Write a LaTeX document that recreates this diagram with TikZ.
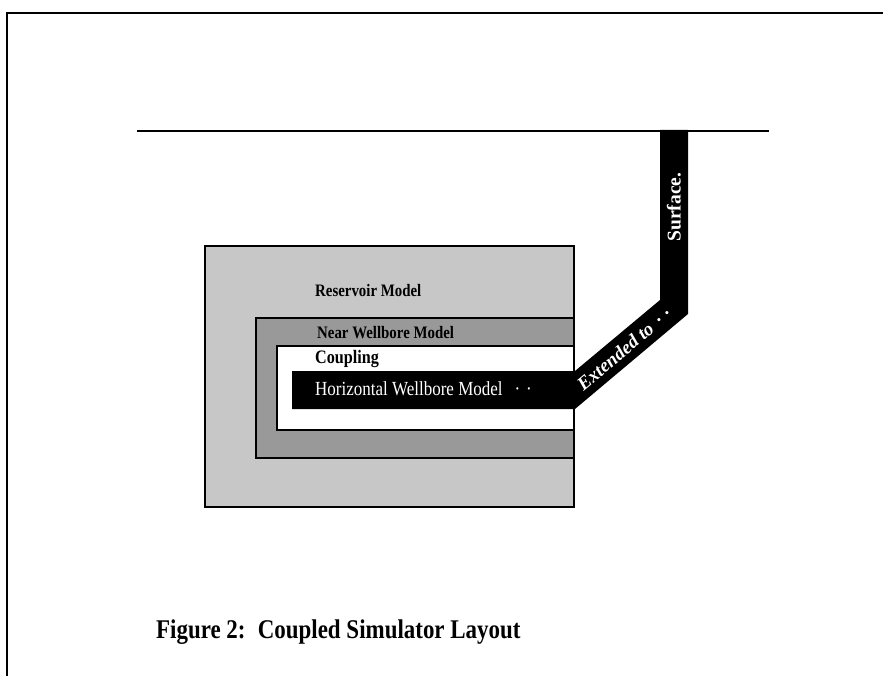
\documentclass[tikz,border=0pt]{standalone}
\usepackage{fontspec}
\setmainfont{Liberation Serif}
\usetikzlibrary{positioning}

\tikzset{
  modelbox/.style={draw=black, line width=1.8pt},
  boxlabel/.style={anchor=base west, inner sep=0pt, xscale=.85, font=\bfseries\fontsize{17.5}{20}\selectfont},
  pipelabel/.style={inner sep=0pt, text=white, font=\bfseries\fontsize{18}{20}\selectfont},
}

\begin{document}
\begin{tikzpicture}[x=1pt, y=-1pt]
        \useasboundingbox (0,0) rectangle (883,676);

        % Page frame (only top and left edges survive)
        \draw[line width=1.2pt] (7,676) -- (7,13) -- (883,13);

        % Ground surface line
        \coordinate (surfL) at (137,131);
        \coordinate (surfR) at (769,131);
        \draw[line width=1.6pt] (surfL) -- (surfR);

        % Nested model boxes
        \filldraw[modelbox, fill=black!22] (205,246) rectangle (574,507);
        \filldraw[modelbox, line width=2.2pt, fill=black!40] (256,318) rectangle (574,458);
        \filldraw[modelbox, line width=1.4pt, fill=white] (277,346) rectangle (574,430);

        % Wellbore, horizontal leg running out and up to the surface
        \fill (292,371) -- (575,371) -- (660,300) -- (660,130)
              -- (688,130) -- (688,314) -- (575,409) -- (292,409) -- cycle;

        % Labels
        \node[boxlabel] (res) at (315,297) {Reservoir Model};
        \node[boxlabel] (nwb) at (317,338) {Near Wellbore Model};
        \node[boxlabel, font=\bfseries\fontsize{19}{20}\selectfont] (cpl) at (315,363) {Coupling};
        \node[boxlabel, text=white, font=\fontsize{20}{22}\selectfont] (hwb) at (315,395)
             {Horizontal Wellbore Model\hspace{0.7em}·\hspace{0.35em}·};
        \node[pipelabel, rotate=40, font=\bfseries\itshape\fontsize{19}{20}\selectfont] (ext) at (624,349)
             {Extended to\hspace{0.4em}·\hspace{0.3em}·};
        \node[pipelabel, rotate=90, font=\bfseries\fontsize{19.5}{20}\selectfont] (surf) at (674,207) {Surface.};

        % Caption
        \node[boxlabel, font=\bfseries\fontsize{27}{30}\selectfont] (cap) at (156,638)
             {Figure 2:\hspace{0.2em} Coupled Simulator Layout};

    \end{tikzpicture}
\end{document}
